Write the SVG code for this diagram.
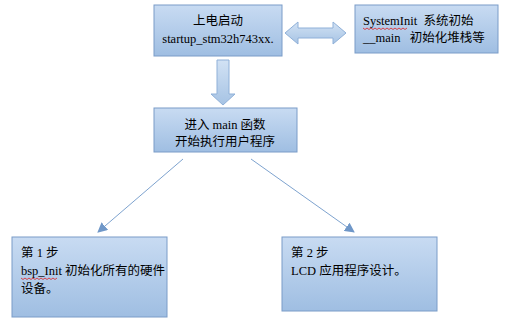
<svg xmlns="http://www.w3.org/2000/svg" width="510" height="327" viewBox="0 0 510 327">
<defs>
<linearGradient id="g" x1="0" y1="0" x2="0" y2="1">
<stop offset="0" stop-color="#c8dbf2"/>
<stop offset="1" stop-color="#9fbee2"/>
</linearGradient>
<linearGradient id="ga" x1="0" y1="0" x2="0" y2="1">
<stop offset="0" stop-color="#d2e2f4"/>
<stop offset="1" stop-color="#a6c3e4"/>
</linearGradient>
<marker id="ah" viewBox="0 0 10 10" refX="9" refY="5" markerWidth="10" markerHeight="10" markerUnits="userSpaceOnUse" orient="auto">
<path d="M0,0 L10,5 L0,10 Z" fill="#6f97c8"/>
</marker>
</defs>
<style>
.box{fill:url(#g);stroke:#7a9cc8;stroke-width:1}
.t{font-family:"Liberation Serif","Noto Sans CJK SC",serif;font-size:12.5px;fill:#000}
.c{text-anchor:middle}
.sq{fill:none;stroke:#e02020;stroke-width:0.8}
.ln{stroke:#7ea3cf;stroke-width:1;fill:none}
.big{fill:url(#ga);stroke:#8fb0d8;stroke-width:1}
</style>
<rect width="510" height="327" fill="#fff"/>
<g id="connectors">
<path class="big" d="M285,33 L298,22 L298,28 L333,28 L333,22 L346,33 L333,44 L333,38 L298,38 L298,44 Z"/>
<path class="big" d="M217,60 L229,60 L229,94 L235,94 L223,105 L211,94 L217,94 Z"/>
<line class="ln" x1="183" y1="159" x2="98" y2="232" marker-end="url(#ah)"/>
<line class="ln" x1="251" y1="159" x2="354" y2="232" marker-end="url(#ah)"/>
</g>
<g id="n1">
<rect class="box" x="154" y="5" width="128" height="51"/>
<text class="t c" x="218" y="25">上电启动</text>
<text class="t c" x="218" y="43">startup_stm32h743xx.</text>
</g>
<g id="n2">
<rect class="box" x="355" y="5" width="143" height="48"/>
<text class="t" x="363" y="25" xml:space="preserve">SystemInit  系统初始</text>
<text class="t" x="363" y="42" xml:space="preserve">__main   初始化堆栈等</text>
<path class="sq" d="M363,28 l2,1.5 l2,-1.5 l2,1.5 l2,-1.5 l2,1.5 l2,-1.5 l2,1.5 l2,-1.5 l2,1.5 l2,-1.5 l2,1.5 l2,-1.5 l2,1.5 l2,-1.5 l2,1.5 l2,-1.5 l2,1.5 l2,-1.5 l2,1.5 l2,-1.5 l2,1.5 l2,-1.5"/>
</g>
<g id="n3">
<rect class="box" x="154" y="108" width="143" height="44"/>
<text class="t c" x="225" y="129">进入 main 函数</text>
<text class="t c" x="225" y="146">开始执行用户程序</text>
</g>
<g id="n4">
<rect class="box" x="12" y="237" width="155" height="80"/>
<text class="t" x="21" y="257">第 1 步</text>
<text class="t" x="21" y="275">bsp_Init 初始化所有的硬件</text>
<text class="t" x="21" y="293">设备。</text>
<path class="sq" d="M21,278 l2,1.5 l2,-1.5 l2,1.5 l2,-1.5 l2,1.5 l2,-1.5 l2,1.5 l2,-1.5 l2,1.5 l2,-1.5 l2,1.5 l2,-1.5 l2,1.5 l2,-1.5 l2,1.5 l2,-1.5 l2,1.5 l2,-1.5"/>
</g>
<g id="n5">
<rect class="box" x="282" y="237" width="155" height="74"/>
<text class="t" x="291" y="257">第 2 步</text>
<text class="t" x="291" y="275">LCD 应用程序设计。</text>
</g>
</svg>
